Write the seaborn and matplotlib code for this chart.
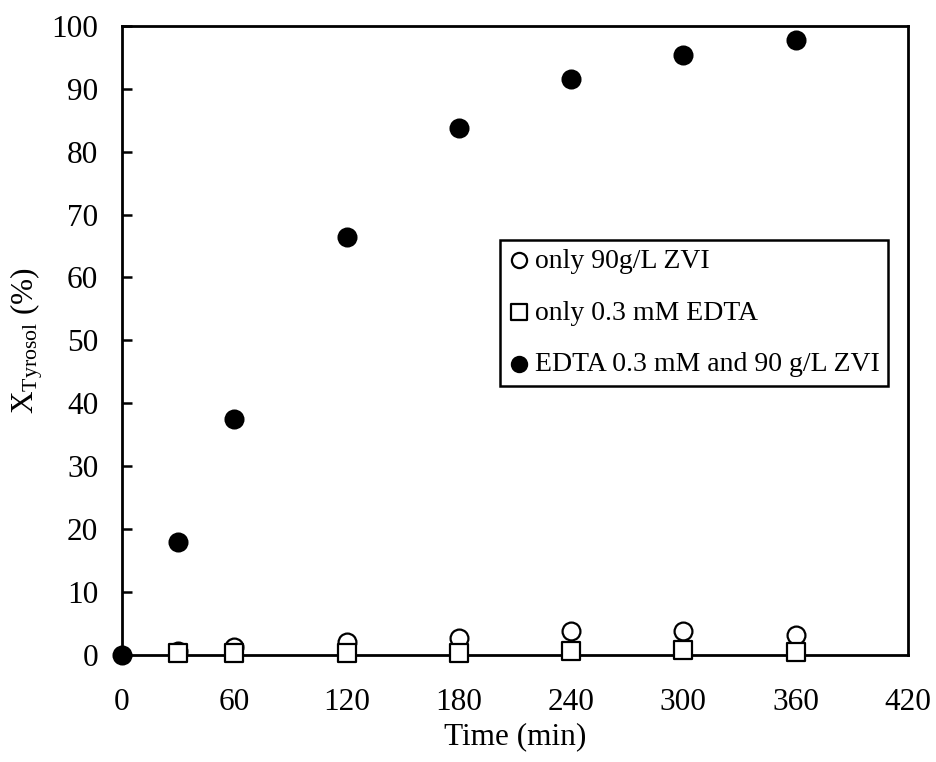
import pandas as pd
import seaborn as sns
import matplotlib.pyplot as plt

# time points (min)
time_min = [0, 30, 60, 120, 180, 240, 300, 360]
time_ctrl = [30, 60, 120, 180, 240, 300, 360]

# conversion of tyrosol (%)
zvi_only = [0.6, 1.2, 2.1, 2.6, 3.8, 3.7, 3.2]
edta_only = [0.3, 0.3, 0.2, 0.3, 0.6, 0.8, 0.4]
edta_zvi = [0, 18.0, 37.5, 66.5, 83.7, 91.6, 95.4, 97.7]

labels = ['only 90g/L ZVI', 'only 0.3 mM EDTA', 'EDTA 0.3 mM and 90 g/L ZVI']

sns.set_style('ticks')
plt.rcParams['font.family'] = ['Liberation Serif', 'DejaVu Serif']
plt.rcParams['mathtext.fontset'] = 'custom'
plt.rcParams['mathtext.rm'] = 'Liberation Serif'
plt.rcParams['text.color'] = 'black'
plt.rcParams['axes.labelcolor'] = 'black'
plt.rcParams['xtick.color'] = 'black'
plt.rcParams['ytick.color'] = 'black'

fig = plt.figure(figsize=(9.36, 7.62), dpi=100)
ax = fig.add_axes([0.1303, 0.1408, 0.8397, 0.8251])

series = [
    (time_ctrl, zvi_only, labels[0], 'o', 'white'),
    (time_ctrl, edta_only, labels[1], 's', 'white'),
    (time_min, edta_zvi, labels[2], 'o', 'black'),
]
for i, (t, vals, lab, mk, fc) in enumerate(series):
    df = pd.DataFrame({'Time': t, 'X': vals})
    sns.scatterplot(data=df, x='Time', y='X', ax=ax, marker=mk, s=165,
                    color=fc, edgecolor='black', linewidth=1.6,
                    label=lab, zorder=10 + i, clip_on=False)

ax.set_xlim(0, 420)
ax.set_ylim(0, 100)
ax.set_xticks(range(0, 421, 60))
ax.set_yticks(range(0, 101, 10))
ax.tick_params(axis='y', direction='in', length=7, width=1.8, labelsize=22.5, pad=17)
ax.tick_params(axis='x', length=0, labelsize=22.5, pad=24)
for s in ax.spines.values():
    s.set_linewidth(2)
    s.set_color('black')
    s.set_visible(True)

ax.set_xlabel('Time (min)', fontsize=22.5, labelpad=4)
ax.set_ylabel(r'$\mathregular{X_{Tyrosol}}$ (%)', fontsize=22.5, labelpad=5)

leg = ax.legend(loc='upper left', bbox_to_anchor=(0.481, 0.6596), fontsize=20,
                markerscale=0.85, handletextpad=0.15, labelspacing=0.95,
                borderpad=0.3, handlelength=0.8, fancybox=False,
                framealpha=1, edgecolor='black', borderaxespad=0)
leg.get_frame().set_linewidth(1.8)

fig.savefig('out.png', dpi=100)
